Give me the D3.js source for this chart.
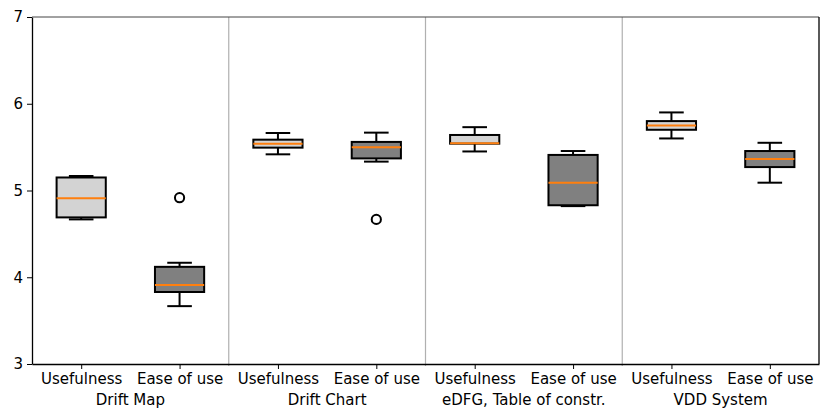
<!DOCTYPE html>
<html>
<head>
<meta charset="utf-8">
<script src="https://cdn.jsdelivr.net/npm/d3@7"></script>
<style>
  body { margin: 0; background: #fff; }
  text { font-family: "DejaVu Sans", sans-serif; fill: #000; }
</style>
</head>
<body>
<svg id="chart"></svg>
<script>
// Box statistics (one entry per box, left to right)
const groups = ["Drift Map", "Drift Chart", "eDFG, Table of constr.", "VDD System"];
const measures = ["Usefulness", "Ease of use"];
const whiskerLow  = [4.667, 3.667, 5.417, 5.333, 5.45, 4.82, 5.60, 5.09];
const quartile1   = [4.69, 3.83, 5.494, 5.37, 5.54, 4.83, 5.70, 5.27];
const medians     = [4.91, 3.91, 5.54, 5.50, 5.545, 5.09, 5.75, 5.363];
const quartile3   = [5.15, 4.12, 5.586, 5.56, 5.64, 5.41, 5.80, 5.455];
const whiskerHigh = [5.167, 4.167, 5.663, 5.667, 5.73, 5.455, 5.90, 5.55];
const fliers      = [[], [4.917], [], [4.667], [], [], [], []];
const yTicks = [3, 4, 5, 6, 7];

const margin = { top: 17, right: 11, bottom: 51, left: 32 };
const width = 830 - margin.left - margin.right;
const height = 415 - margin.top - margin.bottom;
const lw = 2;

const svg = d3.select("#chart").attr("width", 830).attr("height", 415);
const chart = svg.append("g").attr("transform", `translate(${margin.left},${margin.top})`);

const boxes = whiskerLow.map((d, i) => ({
  pos: i + 1,
  measure: measures[i % 2],
  lo: whiskerLow[i], q1: quartile1[i], med: medians[i], q3: quartile3[i], hi: whiskerHigh[i],
  fliers: fliers[i]
}));

const x = d3.scaleLinear().domain([0.5, 8.5]).range([0, width]);
const y = d3.scaleLinear().domain([3, 7]).range([height, 0]);

// group separators
chart.selectAll(".sep")
  .data([2.5, 4.5, 6.5])
  .join("line")
  .attr("class", "sep")
  .attr("x1", d => x(d)).attr("x2", d => x(d))
  .attr("y1", 0).attr("y2", height + 2)
  .attr("stroke", "#b0b0b0").attr("stroke-width", 1.2);

const boxW = x(1.25) - x(1);
const capW = x(1.125) - x(1);

const g = chart.selectAll(".box").data(boxes).join("g").attr("class", "box");

// whiskers
g.append("line")
  .attr("x1", d => x(d.pos)).attr("x2", d => x(d.pos))
  .attr("y1", d => y(d.q3)).attr("y2", d => y(d.hi))
  .attr("stroke", "#000").attr("stroke-width", lw);
g.append("line")
  .attr("x1", d => x(d.pos)).attr("x2", d => x(d.pos))
  .attr("y1", d => y(d.q1)).attr("y2", d => y(d.lo))
  .attr("stroke", "#000").attr("stroke-width", lw);
// caps
["hi", "lo"].forEach(k => {
  g.append("line")
    .attr("x1", d => x(d.pos) - capW).attr("x2", d => x(d.pos) + capW)
    .attr("y1", d => y(d[k])).attr("y2", d => y(d[k]))
    .attr("stroke", "#000").attr("stroke-width", lw);
});
// box
g.append("rect")
  .attr("x", d => x(d.pos) - boxW)
  .attr("width", 2 * boxW)
  .attr("y", d => y(d.q3))
  .attr("height", d => y(d.q1) - y(d.q3))
  .attr("fill", d => d.measure === "Usefulness" ? "#d3d3d3" : "#808080")
  .attr("stroke", "#000").attr("stroke-width", lw);
// median
g.append("line")
  .attr("x1", d => x(d.pos) - boxW).attr("x2", d => x(d.pos) + boxW)
  .attr("y1", d => y(d.med)).attr("y2", d => y(d.med))
  .attr("stroke", "#ff7f0e").attr("stroke-width", lw);
// outliers
g.selectAll(".flier")
  .data(d => d.fliers.map(v => ({ pos: d.pos, v })))
  .join("circle")
  .attr("class", "flier")
  .attr("cx", d => x(d.pos)).attr("cy", d => y(d.v))
  .attr("r", 4.6)
  .attr("fill", "none").attr("stroke", "#000").attr("stroke-width", lw);

// axes
const yAxis = d3.axisLeft(y).tickValues(yTicks).tickFormat(d3.format("d"))
  .tickSize(5).tickPadding(4).tickSizeOuter(0);
const yAxisG = chart.append("g").call(yAxis);
yAxisG.select(".domain").attr("stroke-width", 1.3);
yAxisG.selectAll("text").style("font-size", "15px");

const xAxis = d3.axisBottom(x).tickValues(boxes.map(d => d.pos))
  .tickFormat((d, i) => measures[i % 2]).tickSize(5).tickPadding(4).tickSizeOuter(0);
const xAxisG = chart.append("g").attr("transform", `translate(0,${height})`).call(xAxis);
xAxisG.select(".domain").attr("stroke-width", 1.3);
xAxisG.selectAll("text").style("font-size", "15px");

// top and right spines
chart.append("line").attr("x1", 0).attr("x2", width).attr("y1", 0).attr("y2", 0)
  .attr("stroke", "#444").attr("stroke-width", 1);
chart.append("line").attr("x1", width).attr("x2", width).attr("y1", 0).attr("y2", height)
  .attr("stroke", "#000").attr("stroke-width", 1.3);

// group labels
chart.selectAll(".group-label")
  .data(groups)
  .join("text")
  .attr("class", "group-label")
  .attr("x", (d, i) => x(2 * i + 1.5))
  .attr("y", height + 41)
  .attr("text-anchor", "middle")
  .style("font-size", "15px")
  .text(d => d);
</script>
</body>
</html>
